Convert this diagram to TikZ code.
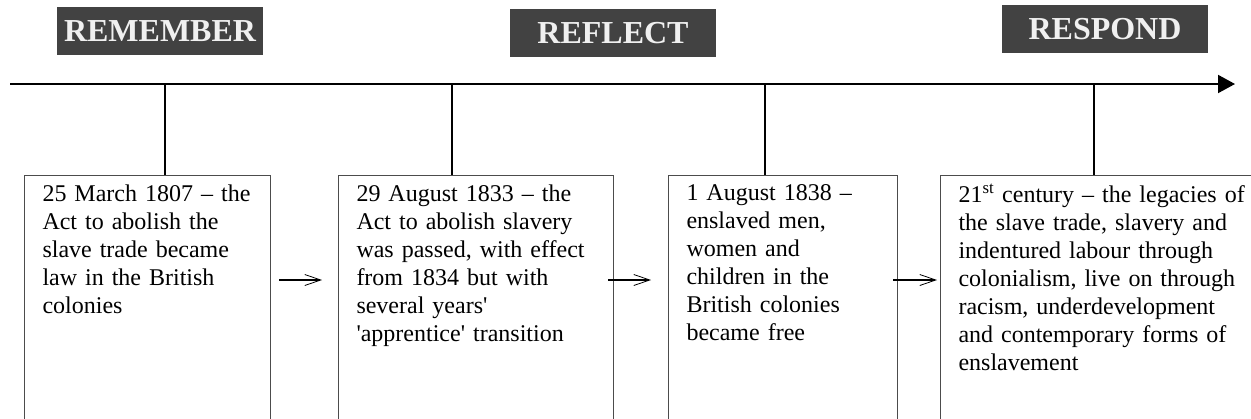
\documentclass[tikz,border=0pt]{standalone}
\usepackage{fontspec}
\setmainfont{Liberation Serif}
\usepackage{tikz}
\usetikzlibrary{positioning}
\usetikzlibrary{arrows.meta}
\begin{document}
\begin{tikzpicture}[x=1pt,y=-1pt,
  head/.style={fill=black!74,text=white!94!black,font=\bfseries\fontsize{32}{32}\selectfont,minimum width=206pt,minimum height=48pt,inner sep=0pt},
  event/.style={draw=black!70,line width=1pt,align=left,inner xsep=18pt,inner ysep=9pt,text depth=260pt,font=\fontsize{24}{28}\selectfont},
  tl/.style={line width=2pt},
  nx/.style={line width=1.5pt,-{Straight Barb[length=16pt,width=11pt,line width=0.8pt]}}]
\useasboundingbox (0,0) rectangle (1251,418);
\clip (0,0) rectangle (1251,418);
%\draw[help lines,step=50] (0,0) grid (1251,418);
\path node[head] (rem) at (160,31) {REMEMBER};
\path node[head] (ref) at (613,33) {REFLECT};
\path node[head] (res) at (1105,29) {RESPOND};
\coordinate (s) at (10,84);
\coordinate (e) at (1235,84);
\draw[tl,-{Triangle[length=17pt,width=18pt]}] (s) -- (e);
\path node[event,text width=210pt,anchor=north west] (b1) at (24,175) {25 March 1807 -- the\\Act to abolish the\\slave trade became\\law in the British\\colonies};
\path node[event,text width=239pt,right=67pt of b1.north east,anchor=north west] (b2) {29 August 1833 -- the\\Act to abolish slavery\\was passed, with effect\\from 1834 but with\\several years\textquotesingle\\\textquotesingle apprentice\textquotesingle{} transition};
\path node[event,text width=193pt,right=54pt of b2.north east,anchor=north west] (b3) {1 August 1838 --\\enslaved men,\\women and\\children in the\\British colonies\\became free};
\path node[event,text width=300pt,right=42pt of b3.north east,anchor=north west] (b4) {21\textsuperscript{st} century -- the legacies of\\the slave trade, slavery and\\indentured labour through\\colonialism, live on through\\racism, underdevelopment\\and contemporary forms of\\enslavement};
\coordinate (t1) at (165,84);
\coordinate (t2) at (452,84);
\coordinate (t3) at (765,84);
\coordinate (t4) at (1094,84);
\draw[tl] (t1) -- (t1 |- b1.north);
\draw[tl] (t2) -- (t2 |- b2.north);
\draw[tl] (t3) -- (t3 |- b3.north);
\draw[tl] (t4) -- (t4 |- b4.north);
\coordinate (p1) at (279,280);
\coordinate (q1) at (322,280);
\coordinate (p2) at (608,280);
\coordinate (q2) at (651,280);
\coordinate (p3) at (893,280);
\coordinate (q3) at (937,280);
\draw[nx] (p1) -- (q1);
\draw[nx] (p2) -- (q2);
\draw[nx] (p3) -- (q3);
\end{tikzpicture}
\end{document}
